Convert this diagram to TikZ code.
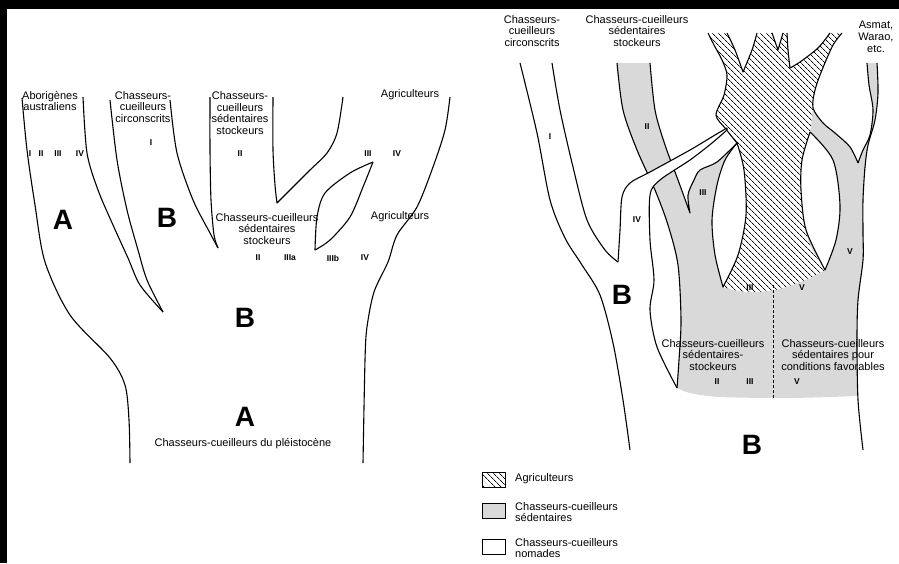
\documentclass[tikz,border=0pt]{standalone}
\usepackage{fontspec}
\setmainfont{Liberation Sans}
\usetikzlibrary{patterns.meta}

\begin{document}
\begin{tikzpicture}[
    x=1pt, y=-1pt,
    branch/.style={line width=1.1pt, line join=round},
    people/.style={align=center, font=\fontsize{11}{11.8}\selectfont, inner sep=0pt},
    numeral/.style={font=\fontsize{8.5}{9}\selectfont\bfseries, inner sep=0pt},
    bigletter/.style={font=\fontsize{28}{30}\selectfont\bfseries, inner sep=0pt},
    sedentary/.style={fill=gray!30},
    farming/.style={pattern={Lines[angle=-45, distance=4pt, line width=0.7pt]}},
    keybox/.style={draw, line width=0.8pt, minimum width=23pt, minimum height=15pt, inner sep=0pt},
    keytext/.style={anchor=west, align=left, font=\fontsize{11}{11.8}\selectfont, inner sep=0pt}
]

% -------------------------
% Frame
% -------------------------
\useasboundingbox (0,0) rectangle (899,563);
\fill[white] (0,0) rectangle (899,563);
\fill[black] (0,0) rectangle (899,9);
\fill[black] (0,0) rectangle (7,563);

% -------------------------
% Left tree
% -------------------------
\draw[branch] plot[smooth] coordinates {(22,98) (27,150) (35,205) (45,262) (70,315) (110,358) (125,385) (129,420) (130,463)};
\draw[branch] plot[smooth] coordinates {(83,97) (87,153) (98,190) (113,225) (128,258) (140,285) (163,312)};
\draw[branch] plot[smooth] coordinates {(110,100) (117,160) (127,210) (138,250) (147,280) (163,312)};
\draw[branch] plot[smooth] coordinates {(170,100) (177,153) (193,200) (210,233) (218,248)};
\draw[branch] plot[smooth] coordinates {(210,97) (210,150) (211,200) (214,235) (218,248)};
\draw[branch] plot[smooth] coordinates {(273,97) (273,150) (275,185) (277,203)}
    -- plot[smooth] coordinates {(277,203) (293,187) (310,170) (327,153) (337,133) (343,97)};
\draw[branch] plot[smooth] coordinates {(373,162) (350,173) (325,193) (317,217) (315,250)}
    -- plot[smooth] coordinates {(315,250) (330,240) (350,217) (363,187) (373,162)};
\draw[branch] plot[smooth] coordinates {(450,97) (445,130) (433,167) (417,207) (397,235) (388,262) (374,292) (367,327) (365,360) (363,463)};

\node[people] (aborigenes) at (50,101) {Aborigènes\\australiens};
\node[people] (circonscritsL) at (143,107) {Chasseurs-\\cueilleurs\\circonscrits};
\node[people] (stockeursL) at (240,113) {Chasseurs-\\cueilleurs\\sédentaires\\stockeurs};
\node[people] (agriTop) at (410,95) {Agriculteurs};
\node[numeral] (numA1) at (30,154) {I};
\node[numeral] (numA2) at (41,154) {II};
\node[numeral] (numA3) at (58,154) {III};
\node[numeral] (numA4) at (80,154) {IV};
\node[numeral] (numB) at (151,143) {I};
\node[numeral] (numC) at (240,154) {II};
\node[numeral] (numD1) at (368,154) {III};
\node[numeral] (numD2) at (397,154) {IV};
\node[bigletter] (letterA) at (63,220) {A};
\node[bigletter] (letterB) at (167,218) {B};
\node[people] (stockeursM) at (267,229) {Chasseurs-cueilleurs\\sédentaires\\stockeurs};
\node[people] (agriMid) at (400,217) {Agriculteurs};
\node[numeral] (numE) at (258,258) {II};
\node[numeral] (numF) at (290,258) {IIIa};
\node[numeral] (numG) at (333,258) {IIIb};
\node[numeral] (numH) at (365,258) {IV};
\node[bigletter] (trunkB) at (245,318) {B};
\node[bigletter] (trunkA) at (245,417) {A};
\node[people] (pleisto) at (243,444) {Chasseurs-cueilleurs du pléistocène};

% -------------------------
% Right tree: fills
% -------------------------
\fill[sedentary] plot[smooth] coordinates {(617,63) (623,110) (637,150) (655,190) (668,225) (678,265) (681,320) (679,360) (677,388)}
    -- plot[smooth] coordinates {(677,388) (690,393) (720,397) (790,398) (858,396)}
    -- plot[smooth] coordinates {(858,396) (857,340) (858,300) (863,260) (863,233) (863,200) (865,167) (868,145) (875,120) (878,93) (877,63)}
    -- (867,63)
    -- plot[smooth] coordinates {(867,63) (869,85) (873,110) (870,135) (863,150) (858,163)}
    -- plot[smooth] coordinates {(858,163) (850,147) (835,133) (823,123) (813,108)}
    -- (737,143)
    -- plot[smooth] coordinates {(737,143) (717,162) (700,170) (694,180) (688,195) (690,213)}
    -- plot[smooth] coordinates {(690,213) (678,180) (665,145) (655,110) (650,63)}
    -- cycle;

\path[fill=white, postaction={farming}] plot[smooth] coordinates {(708,33) (714,45) (722,60) (727,75) (724,95) (716,115) (725,128) (737,143)}
    -- plot[smooth] coordinates {(737,143) (744,170) (746,215) (738,255) (723,287)}
    -- plot[smooth] coordinates {(723,287) (745,292) (775,290) (805,280) (825,270)}
    -- plot[smooth] coordinates {(825,270) (808,240) (801,190) (804,150) (810,132) (813,108)}
    -- plot[smooth] coordinates {(813,108) (815,90) (822,70) (833,45) (842,33)}
    -- (830,33)
    -- plot[smooth] coordinates {(830,33) (818,48) (800,62) (790,68)}
    -- plot[smooth] coordinates {(790,68) (788,50) (787,33)}
    -- (783,33) -- (778,50) -- (772,33) -- (757,33)
    -- plot[smooth] coordinates {(757,33) (752,50) (743,72)}
    -- plot[smooth] coordinates {(743,72) (735,50) (727,33)}
    -- cycle;

% white lenses
\draw[branch, fill=white] plot[smooth] coordinates {(737,143) (725,160) (717,185) (712,220) (715,255) (723,287)}
    -- plot[smooth] coordinates {(723,287) (738,255) (746,215) (744,170) (737,143)};
\draw[branch, fill=white] plot[smooth] coordinates {(810,132) (802,160) (801,190) (806,230) (825,270)}
    -- plot[smooth] coordinates {(825,270) (836,240) (840,205) (833,160) (810,132)};

\draw[densely dashed, line width=1pt] (773,285) -- (773,398);

% -------------------------
% Right tree: outlines
% -------------------------
\draw[branch] plot[smooth] coordinates {(520,63) (537,133) (550,200) (565,238) (582,265) (600,295) (613,343) (623,400) (630,450)};
\draw[branch] plot[smooth] coordinates {(552,63) (560,110) (573,167) (587,220) (605,250) (618,262)};
\draw[branch] plot[smooth] coordinates {(617,63) (623,110) (637,150) (655,190) (668,225) (678,265) (681,320) (679,360) (677,388)};
\draw[branch] plot[smooth] coordinates {(650,63) (655,110) (665,145) (678,180) (690,213)}
    -- plot[smooth] coordinates {(690,213) (688,195) (694,180) (700,170) (717,162) (737,143)};
\draw[branch] plot[smooth] coordinates {(708,33) (714,45) (722,60) (727,75) (724,95) (716,115) (725,128) (737,143)};
\draw[branch] plot[smooth] coordinates {(727,33) (735,50) (743,72)}
    -- plot[smooth] coordinates {(743,72) (752,50) (757,33)};
\draw[branch] (772,33) -- (778,50) -- (783,33);
\draw[branch] plot[smooth] coordinates {(787,33) (788,50) (790,68)}
    -- plot[smooth] coordinates {(790,68) (800,62) (818,48) (830,33)};
\draw[branch] plot[smooth] coordinates {(842,33) (833,45) (822,70) (815,90) (813,108) (823,123) (835,133) (850,147) (858,163)};
\draw[branch] plot[smooth] coordinates {(867,63) (869,85) (873,110) (870,135) (863,150) (858,163)};
\draw[branch] plot[smooth] coordinates {(877,63) (878,93) (875,120) (868,145) (865,167) (863,200) (863,233) (863,260) (858,300) (857,340) (858,400) (863,450)};

% branch IV laid over branch II
\fill[white] plot[smooth] coordinates {(618,262) (620,230) (622,197) (630,183) (650,172) (690,150) (715,135) (727,128)}
    -- plot[smooth] coordinates {(727,132) (712,143) (690,160) (660,180) (650,195) (650,240) (651,262)}
    -- cycle;
\draw[branch] plot[smooth] coordinates {(618,262) (620,230) (622,197) (630,183) (650,172) (690,150) (715,135) (727,128)}
    -- plot[smooth] coordinates {(727,130) (712,143) (690,160) (660,180) (650,195) (650,240) (654,280) (650,310) (657,347) (677,388)};

% -------------------------
% Right tree: labels
% -------------------------
\node[people] (circonscritsR) at (532,31) {Chasseurs-\\cueilleurs\\circonscrits};
\node[people] (stockeursR) at (637,31) {Chasseurs-cueilleurs\\sédentaires\\stockeurs};
\node[people] (asmat) at (876,37) {Asmat,\\Warao,\\etc.};
\node[numeral] (numI) at (550,137) {I};
\node[numeral] (numII) at (647,127) {II};
\node[numeral] (numIII) at (703,193) {III};
\node[numeral] (numIV) at (637,220) {IV};
\node[numeral] (numV) at (850,252) {V};
\node[numeral] (numIIIb) at (750,288) {III};
\node[numeral] (numVb) at (802,288) {V};
\node[bigletter] (sideB) at (622,295) {B};
\node[bigletter] (baseB) at (752,445) {B};
\node[people] (stockeursBas) at (713,355) {Chasseurs-cueilleurs\\sédentaires-\\stockeurs};
\node[people] (favorables) at (833,355) {Chasseurs-cueilleurs\\sédentaires pour\\conditions favorables};
\node[numeral] (numIIc) at (717,382) {II};
\node[numeral] (numIIIc) at (750,382) {III};
\node[numeral] (numVc) at (797,382) {V};

% -------------------------
% Key
% -------------------------
\node[keybox, fill=white, postaction={farming}] (keyFarm) at (493.5,479.5) {};
\node[keybox, sedentary] (keySed) at (493.5,510.5) {};
\node[keybox, fill=white] (keyNom) at (493.5,547) {};
\node[keytext] (txtFarm) at (515,479) {Agriculteurs};
\node[keytext] (txtSed) at (515,512) {Chasseurs-cueilleurs\\sédentaires};
\node[keytext] (txtNom) at (515,548) {Chasseurs-cueilleurs\\nomades};

\end{tikzpicture}
\end{document}
